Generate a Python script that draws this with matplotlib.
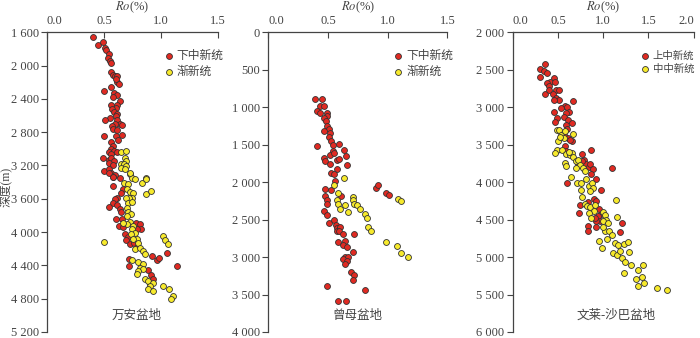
import matplotlib
matplotlib.use('Agg')
import matplotlib.pyplot as plt

plt.rcParams['font.family'] = ['Liberation Serif', 'Noto Sans CJK SC']
plt.rcParams['mathtext.fontset'] = 'stix'
plt.rcParams['axes.unicode_minus'] = False

# 万安盆地
wa_red_ro = [0.40, 0.445, 0.494, 0.509, 0.515, 0.547, 0.532, 0.553, 0.561, 0.558, 0.582, 0.60, 0.617, 0.611,
             0.605, 0.629, 0.561, 0.50, 0.588, 0.617, 0.582, 0.64, 0.558, 0.611, 0.605, 0.567, 0.59, 0.617,
             0.605, 0.553, 0.509, 0.617, 0.64, 0.60, 0.567, 0.576, 0.655, 0.611, 0.50, 0.661, 0.605, 0.623,
             0.564, 0.576, 0.558, 0.541, 0.588, 0.49, 0.564, 0.617, 0.541, 0.564, 0.588, 0.547, 0.576, 0.50,
             0.547, 0.558, 0.597, 0.576, 0.541, 0.576, 0.64, 0.582, 0.664, 0.649, 0.611, 0.597, 0.576, 0.547,
             0.611, 0.64, 0.646, 0.605, 0.655, 0.634, 0.67, 0.781, 0.816, 0.822, 0.787, 0.684, 0.713, 0.693,
             0.728, 0.763, 0.787, 0.722, 0.918, 0.968, 0.985, 1.05, 0.722, 1.137, 0.889, 0.912, 0.933, 0.904]
wa_red_d = [1656, 1748, 1712, 1788, 1816, 1856, 1908, 1944, 1972, 2072, 2108, 2128, 2120, 2200,
            2160, 2220, 2260, 2304, 2328, 2352, 2380, 2428, 2472, 2472, 2512, 2520, 2552, 2580,
            2608, 2632, 2652, 2648, 2700, 2704, 2720, 2760, 2712, 2772, 2840, 2828, 2848, 2892,
            2920, 2960, 3000, 3032, 3020, 3112, 3060, 3032, 3128, 3112, 3140, 3168, 3200, 3272,
            3240, 3288, 3312, 3340, 3288, 3336, 3348, 3448, 3480, 3536, 3588, 3608, 3656, 3696,
            3680, 3720, 3760, 3840, 3848, 3928, 3936, 3888, 3908, 3960, 3960, 4028, 4056, 4096,
            4148, 4136, 4176, 4320, 4288, 4336, 4308, 4256, 4408, 4408, 4456, 4520, 4568, 4628]
wa_yel_ro = [0.652, 0.696, 0.684, 0.69, 0.649, 0.675, 0.693, 0.646, 0.687, 0.728, 0.743, 0.868,
             0.728, 0.772, 0.83, 0.868, 0.675, 0.713, 0.699, 0.728, 0.757, 0.743, 0.722, 0.693,
             0.713, 0.743, 0.865, 0.912, 0.699, 0.713, 0.734, 0.705, 0.728, 0.705, 0.757, 0.67,
             0.743, 0.772, 0.734, 0.787, 0.757, 0.801, 0.772, 0.816, 0.845, 0.860, 0.50, 1.020,
             1.035, 1.058, 0.743, 0.801, 0.839, 0.816, 0.845, 0.801, 0.787, 0.860, 0.889, 0.933,
             0.904, 0.889, 0.933, 1.02, 1.073, 1.108, 1.085]
wa_yel_d = [3040, 3020, 3108, 3148, 3180, 3180, 3208, 3228, 3248, 3304, 3352, 3352,
            3296, 3368, 3408, 3360, 3408, 3428, 3488, 3520, 3536, 3588, 3588, 3588,
            3648, 3640, 3548, 3508, 3708, 3760, 3788, 3808, 3880, 3908, 3928, 3888,
            3968, 4008, 4028, 4088, 4088, 4128, 4208, 4188, 4228, 4268, 4120, 4048,
            4100, 4148, 4336, 4360, 4388, 4428, 4448, 4468, 4508, 4568, 4588, 4608,
            4648, 4688, 4708, 4648, 4680, 4768, 4800]

# 曾母盆地
zm_red_ro = [0.391, 0.453, 0.433, 0.469, 0.411, 0.433, 0.489, 0.494, 0.466, 0.480, 0.494, 0.508, 0.464,
             0.517, 0.508, 0.522, 0.539, 0.411, 0.589, 0.634, 0.542, 0.517, 0.55, 0.651, 0.466, 0.472,
             0.573, 0.595, 0.517, 0.662, 0.573, 0.525, 0.55, 0.556, 0.478, 0.522, 0.475, 0.489, 0.492,
             0.612, 0.466, 0.489, 0.511, 0.55, 0.567, 0.578, 0.60, 0.573, 0.592, 0.623, 0.718, 0.587,
             0.642, 0.63, 0.662, 0.712, 0.642, 0.67, 0.63, 0.662, 0.642, 0.69, 0.718, 0.712, 0.489,
             0.81, 0.587, 0.651, 0.899, 0.922, 0.986, 1.014]
zm_red_d = [896, 896, 990, 990, 1044, 1071, 1071, 1111, 1142, 1187, 1245, 1290, 1313,
            1344, 1393, 1447, 1501, 1519, 1492, 1577, 1590, 1635, 1617, 1649, 1680, 1716,
            1707, 1693, 1752, 1770, 1823, 1882, 1891, 1985, 2097, 2101, 2186, 2240, 2298,
            2186, 2388, 2442, 2545, 2500, 2576, 2612, 2594, 2648, 2657, 2693, 2693, 2800,
            2791, 2845, 2872, 2934, 2993, 2993, 3024, 3051, 3096, 3203, 3239, 3306, 3382,
            3441, 3584, 3584, 2083, 2038, 2150, 2172]
zm_yel_ro = [0.634, 0.553, 0.587, 0.578, 0.584, 0.601, 0.642, 0.67, 0.706, 0.712, 0.718, 0.74,
             0.768, 0.81, 0.83, 0.838, 0.858, 1.089, 1.112, 0.989, 1.081, 1.112, 1.173]
zm_yel_d = [1949, 2038, 2150, 2240, 2298, 2352, 2307, 2397, 2200, 2244, 2298, 2307,
            2352, 2424, 2477, 2598, 2648, 2231, 2253, 2800, 2849, 2943, 3002]

# 文莱-沙巴盆地
wl_red_ro = [0.355, 0.297, 0.341, 0.377, 0.297, 0.46, 0.413, 0.377, 0.471, 0.399, 0.362, 0.406, 0.478,
             0.507, 0.449, 0.478, 0.514, 0.46, 0.67, 0.58, 0.605, 0.533, 0.623, 0.587, 0.46, 0.486,
             0.569, 0.609, 0.471, 0.659, 0.594, 0.605, 0.565, 0.612, 0.659, 0.63, 0.58, 0.594, 0.87,
             0.761, 0.786, 0.815, 0.841, 0.859, 0.884, 0.768, 0.725, 0.87, 0.92, 1.094, 0.598, 0.975,
             0.895, 0.92, 0.833, 0.739, 0.732, 0.957, 0.978, 0.942, 0.967, 1.21, 1.185, 0.92, 0.83,
             0.83, 0.92, 0.913]
wl_red_d = [2417, 2484, 2515, 2542, 2596, 2605, 2663, 2676, 2663, 2721, 2820, 2775, 2775,
            2766, 2829, 2874, 2909, 2909, 2918, 2977, 3000, 3008, 3066, 3080, 3057, 3142,
            3133, 3165, 3200, 3214, 3232, 3290, 3366, 3411, 3456, 3438, 3519, 3581, 3568,
            3626, 3707, 3752, 3796, 3752, 3828, 3716, 3760, 3886, 3962, 3814, 4012, 4106,
            4231, 4253, 4262, 4307, 4410, 4365, 4424, 4455, 4522, 4545, 4666, 4603, 4589,
            4657, 4522, 4477]
wl_yel_ro = [0.489, 0.514, 0.533, 0.496, 0.562, 0.522, 0.58, 0.667, 0.489, 0.471, 0.544, 0.587, 0.634,
             0.659, 0.67, 0.576, 0.587, 0.623, 0.696, 0.721, 0.743, 0.703, 0.775, 0.804, 0.641, 0.714,
             0.75, 0.815, 0.848, 0.877, 0.888, 0.859, 0.75, 0.768, 0.804, 0.822, 0.859, 0.913, 0.895,
             0.841, 0.87, 0.996, 1.022, 1.029, 0.993, 1.058, 1.022, 0.993, 1.065, 1.101, 1.04, 0.957,
             0.986, 1.138, 1.148, 1.13, 1.167, 1.228, 1.275, 1.112, 1.148, 1.185, 1.21, 1.239, 1.283,
             1.312, 1.232, 1.384, 1.444, 1.426, 1.362, 1.388, 1.449, 1.594, 1.703]
wl_yel_d = [3304, 3304, 3366, 3447, 3411, 3402, 3313, 3357, 3568, 3617, 3572, 3626, 3635,
            3617, 3662, 3738, 3783, 3604, 3716, 3707, 3770, 3805, 3805, 3850, 3931, 4007,
            4007, 3962, 4052, 4007, 4074, 4119, 4110, 4200, 4289, 4320, 4334, 4307, 4379,
            4410, 4477, 4397, 4433, 4500, 4513, 4545, 4648, 4603, 4657, 4701, 4755, 4791,
            4881, 4244, 4468, 4813, 4836, 4822, 4800, 4948, 4970, 4917, 5006, 5060, 4934,
            5105, 5217, 5172, 5105, 5270, 5292, 5382, 5346, 5414, 5445]

red = '#e02a22'
yellow = '#f7ea2c'
edge = '#333333'
grey = '#444444'

panels = [
    dict(rect=[0.0671, 0.0178, 0.2443, 0.8866], xlim=(0, 1.5), xt=[0.0, 0.5, 1.0, 1.5],
         ylim=(5200, 1600), yt=list(range(1600, 5201, 400)),
         r=(wa_red_ro, wa_red_d), y=(wa_yel_ro, wa_yel_d), lab=['下中新统', '渐新统'],
         name='万安盆地', name_x=0.526, leg_x=0.69, leg_fs=8.5),
    dict(rect=[0.3833, 0.0178, 0.2557, 0.8866], xlim=(0, 1.5), xt=[0.0, 0.5, 1.0, 1.5],
         ylim=(4000, 0), yt=list(range(0, 4001, 500)),
         r=(zm_red_ro, zm_red_d), y=(zm_yel_ro, zm_yel_d), lab=['下中新统', '渐新统'],
         name='曾母盆地', name_x=0.497, leg_x=0.705, leg_fs=8.5),
    dict(rect=[0.7324, 0.0178, 0.2586, 0.8866], xlim=(0, 2.0), xt=[0.0, 0.5, 1.0, 1.5, 2.0],
         ylim=(6000, 2000), yt=list(range(2000, 6001, 500)),
         r=(wl_red_ro, wl_red_d), y=(wl_yel_ro, wl_yel_d), lab=['上中新统', '中中新统'],
         name='文莱-沙巴盆地', name_x=0.57, leg_x=0.715, leg_fs=7.5),
]

fig = plt.figure(figsize=(7, 3.38), dpi=100)

for p in panels:
    ax = fig.add_axes(p['rect'])
    ax.scatter(p['r'][0], p['r'][1], s=18, c=red, edgecolors=edge, linewidths=0.6,
               label=p['lab'][0], zorder=3, clip_on=False)
    ax.scatter(p['y'][0], p['y'][1], s=18, c=yellow, edgecolors=edge, linewidths=0.6,
               label=p['lab'][1], zorder=3, clip_on=False)
    ax.set_xlim(*p['xlim'])
    ax.set_ylim(*p['ylim'])
    ax.set_xticks(p['xt'])
    ax.set_xticklabels(['%.1f' % v for v in p['xt']])
    ax.set_yticks(p['yt'])
    ax.set_yticklabels([('{:,}'.format(v)).replace(',', ' ') for v in p['yt']])
    ax.xaxis.tick_top()
    ax.xaxis.set_label_position('top')
    ax.set_xlabel(r'$\mathit{Ro}$(%)', fontsize=9, color=grey, labelpad=3)
    ax.tick_params(axis='x', direction='in', length=4, pad=4, labelsize=9, colors=grey)
    ax.tick_params(axis='y', direction='out', length=4, pad=2, labelsize=9, colors=grey)
    ticks = ax.xaxis.get_major_ticks()
    ticks[0].label2.set_horizontalalignment('left')
    if p['xt'][-1] == 2.0:
        ticks[-1].label2.set_horizontalalignment('right')
    for s in ['right', 'bottom']:
        ax.spines[s].set_visible(False)
    for s in ['left', 'top']:
        ax.spines[s].set_color(grey)
        ax.spines[s].set_linewidth(0.9)
    ax.text(p['name_x'], 0.035, p['name'], transform=ax.transAxes, ha='center', va='bottom',
            fontsize=9, color=grey)
    ax.legend(loc='upper left', bbox_to_anchor=(p['leg_x'], 0.94), frameon=False, fontsize=p['leg_fs'],
              handlelength=0.6, handletextpad=0.4, labelspacing=0.3, borderpad=0,
              borderaxespad=0, labelcolor=grey)

fig.text(0.008, 0.447, '深度(m)', rotation=90, ha='center', va='center', fontsize=8.5, color=grey)

fig.savefig('out.png', dpi=100)
